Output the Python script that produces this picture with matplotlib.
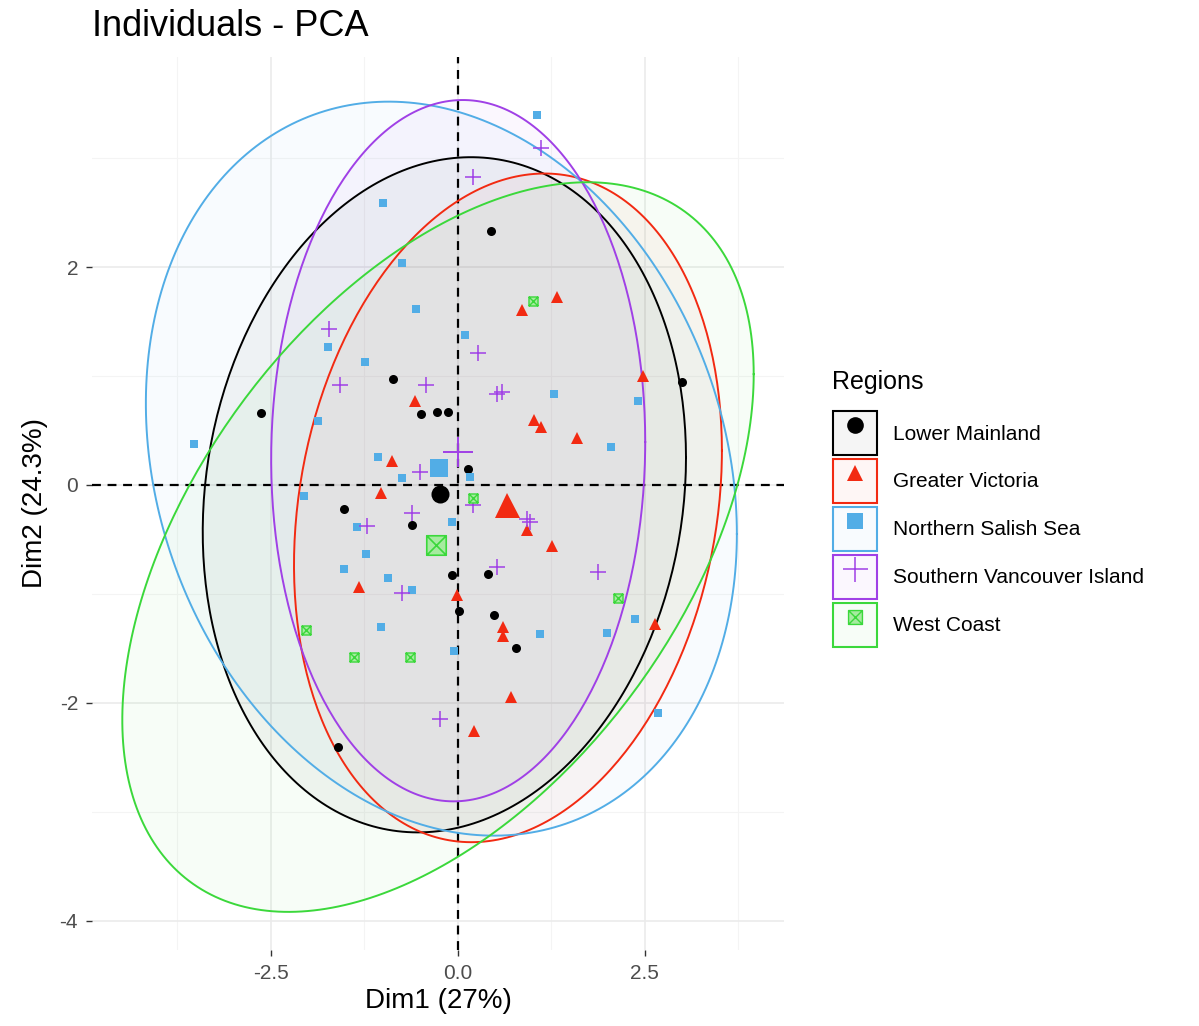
import numpy as np
import matplotlib
matplotlib.use("Agg")
import matplotlib.pyplot as plt
from matplotlib.path import Path
from matplotlib.patches import Patch
from matplotlib.lines import Line2D
from matplotlib.legend_handler import HandlerTuple

plt.rcParams['font.family'] = ['Liberation Sans', 'DejaVu Sans']
plt.rcParams['axes.unicode_minus'] = False

# individuals, by region (Dim1, Dim2)
lm_x = [0.44, 2.99, -2.63, -0.86, -0.49, -0.28, -0.13, 0.13, -1.52, -0.61, -0.08, 0.01, 0.41, 0.49, 0.78, -1.60]
lm_y = [2.33, 0.95, 0.66, 0.97, 0.65, 0.67, 0.67, 0.15, -0.22, -0.37, -0.83, -1.16, -0.82, -1.19, -1.50, -2.41]

gv_x = [-0.57, -0.88, -1.03, -1.32, -0.01, 0.86, 1.32, 2.47, 1.02, 1.11, 1.59, 0.92, 1.26, 0.60, 0.60, 0.71, 0.21, 2.63]
gv_y = [0.77, 0.22, -0.07, -0.94, -1.01, 1.61, 1.73, 1.00, 0.60, 0.53, 0.43, -0.41, -0.56, -1.30, -1.39, -1.95, -2.26, -1.28]

nss_x = [-1.00, -0.75, -0.56, -1.74, -1.24, -1.87, -3.53, -1.07, -0.75, 1.06, 0.09, 1.28, 2.41, 2.05,
         0.16, -2.05, -1.35, -0.08, -1.23, -1.52, -0.94, -0.61, -1.03, -0.05, 1.10, 1.99, 2.37, 2.67]
nss_y = [2.59, 2.04, 1.62, 1.27, 1.13, 0.59, 0.38, 0.26, 0.06, 3.40, 1.38, 0.84, 0.77, 0.35,
         0.07, -0.10, -0.39, -0.34, -0.63, -0.77, -0.85, -0.96, -1.30, -1.52, -1.37, -1.36, -1.23, -2.09]

svi_x = [-1.72, -1.58, -0.43, -0.51, 0.20, 1.11, 0.27, 0.52, 0.59, -1.22, -0.61, -0.75, -0.24, 0.92, 0.96, 0.53, 1.87, 0.20]
svi_y = [1.43, 0.92, 0.92, 0.12, 2.83, 3.09, 1.21, 0.84, 0.85, -0.38, -0.26, -0.99, -2.15, -0.31, -0.34, -0.75, -0.80, -0.18]

wc_x = [1.00, 0.20, -2.03, -1.39, -0.64, 2.14]
wc_y = [1.69, -0.12, -1.33, -1.58, -1.58, -1.04]

regions = ["Lower Mainland", "Greater Victoria", "Northern Salish Sea", "Southern Vancouver Island", "West Coast"]

# group means
mean_x = [-0.24, 0.66, -0.25, 0.00, -0.29]
mean_y = [-0.08, -0.18, 0.16, 0.30, -0.55]

# concentration ellipses: centre, half-extent in x / y, covariance term
ell_cx = [-0.18, 0.67, -0.22, 0.005, -0.265]
ell_cy = [-0.09, -0.21, 0.15, 0.315, -0.57]
ell_sx = [3.23, 2.86, 3.95, 2.50, 4.22]
ell_sy = [3.10, 3.07, 3.37, 3.22, 3.35]
ell_sxy = [1.1, 1.5, -2.37, 0.2, 6.7]

colors = ["#000000", "#F22A12", "#52ADE6", "#A040E6", "#3BD83B"]

# ggplot-like shape 7 (square with a cross)
boxx = Path([(-1, -1), (1, -1), (1, 1), (-1, 1), (-1, -1), (-1, -1), (1, 1), (-1, 1), (1, -1)],
            [Path.MOVETO, Path.LINETO, Path.LINETO, Path.LINETO, Path.CLOSEPOLY,
             Path.MOVETO, Path.LINETO, Path.MOVETO, Path.LINETO])
markers = ["o", "^", "s", "+", boxx]
small_ms = [6.5, 8, 6.2, 11, 6.5]
big_ms = [13, 18, 12.5, 21, 14]

xs = [lm_x, gv_x, nss_x, svi_x, wc_x]
ys = [lm_y, gv_y, nss_y, svi_y, wc_y]

fig = plt.figure(figsize=(11.99, 10.26), dpi=100)
ax = fig.add_axes([92 / 1199, 1 - 950 / 1026, 692 / 1199, 893 / 1026])

# grid (theme_minimal style)
for gx in [-3.75, -1.25, 1.25, 3.75]:
    ax.axvline(gx, color="#F4F4F4", lw=0.8, zorder=0)
for gy in [-3, -1, 1, 3]:
    ax.axhline(gy, color="#F4F4F4", lw=0.8, zorder=0)
for gx in [-2.5, 0, 2.5]:
    ax.axvline(gx, color="#EBEBEB", lw=1.2, zorder=0)
for gy in [-4, -2, 0, 2]:
    ax.axhline(gy, color="#EBEBEB", lw=1.2, zorder=0)

t = np.linspace(0, 2 * np.pi, 300)
for i in range(5):
    S = np.array([[ell_sx[i] ** 2, ell_sxy[i]], [ell_sxy[i], ell_sy[i] ** 2]])
    L = np.linalg.cholesky(S)
    pts = L @ np.vstack([np.cos(t), np.sin(t)])
    ex = ell_cx[i] + pts[0]
    ey = ell_cy[i] + pts[1]
    ax.fill(ex, ey, color=colors[i], alpha=0.04, lw=0, zorder=1)
    ax.plot(ex, ey, color=colors[i], lw=1.4, zorder=3)

ax.axhline(0, color="black", lw=1.6, ls=(0, (4, 3)), zorder=2)
ax.axvline(0, color="black", lw=1.6, ls=(0, (4, 3)), zorder=2)

for i in range(5):
    if i == 4:
        ax.plot(xs[i], ys[i], ls="none", marker=markers[i], ms=small_ms[i], mfc="#A6EBA0",
                mec=colors[i], mew=1.0, zorder=4)
        ax.plot(mean_x[i], mean_y[i], ls="none", marker=markers[i], ms=big_ms[i], mfc="#A6EBA0",
                mec=colors[i], mew=1.2, zorder=5)
    elif i == 3:
        ax.plot(xs[i], ys[i], ls="none", marker="+", ms=small_ms[i], color=colors[i], mew=1.1, zorder=4)
        ax.plot(mean_x[i], mean_y[i], ls="none", marker="+", ms=big_ms[i], color=colors[i], mew=1.4, zorder=5)
    else:
        ax.plot(xs[i], ys[i], ls="none", marker=markers[i], ms=small_ms[i], color=colors[i], mew=0, zorder=4)
        ax.plot(mean_x[i], mean_y[i], ls="none", marker=markers[i], ms=big_ms[i], color=colors[i], mew=0, zorder=5)

ax.set_xlim(-4.89, 4.36)
ax.set_ylim(-4.27, 3.93)
ax.set_xticks([-2.5, 0, 2.5])
ax.set_xticklabels(["-2.5", "0.0", "2.5"])
ax.set_yticks([-4, -2, 0, 2])
for s in ax.spines.values():
    s.set_visible(False)
ax.tick_params(axis="both", length=4, width=1, color="#333333", labelsize=15, labelcolor="#4D4D4D", pad=6)

ax.set_xlabel("Dim1 (27%)", fontsize=20, labelpad=4)
ax.set_ylabel("Dim2 (24.3%)", fontsize=20, labelpad=8)
fig.text(92 / 1199, 1 - 26 / 1026, "Individuals - PCA", fontsize=26, ha="left", va="center")

# legend: outlined key with marker inside, title placed separately
handles = []
for i in range(5):
    box = Patch(facecolor=matplotlib.colors.to_rgba(colors[i], 0.04), edgecolor=colors[i], lw=1.5)
    if i == 4:
        m = Line2D([], [], ls="none", marker=boxx, ms=10, mfc="#A6EBA0", mec=colors[i], mew=1.0)
    elif i == 3:
        m = Line2D([], [], ls="none", marker="+", ms=18, color=colors[i], mew=1.1)
    else:
        m = Line2D([], [], ls="none", marker=markers[i], ms=12, color=colors[i], mew=0)
    handles.append((box, m))

fig.text(832 / 1199, 1 - 382 / 1026, "Regions", fontsize=18, ha="left", va="center")
leg = fig.legend(handles, regions, handler_map={tuple: HandlerTuple(ndivide=1)},
                 loc="upper left", bbox_to_anchor=(823 / 1199, 1 - 401 / 1026),
                 frameon=False, fontsize=15,
                 handlelength=2.1, handleheight=2.87, labelspacing=0.19, handletextpad=0.75,
                 borderpad=0)

fig.savefig("out.png", dpi=100)
